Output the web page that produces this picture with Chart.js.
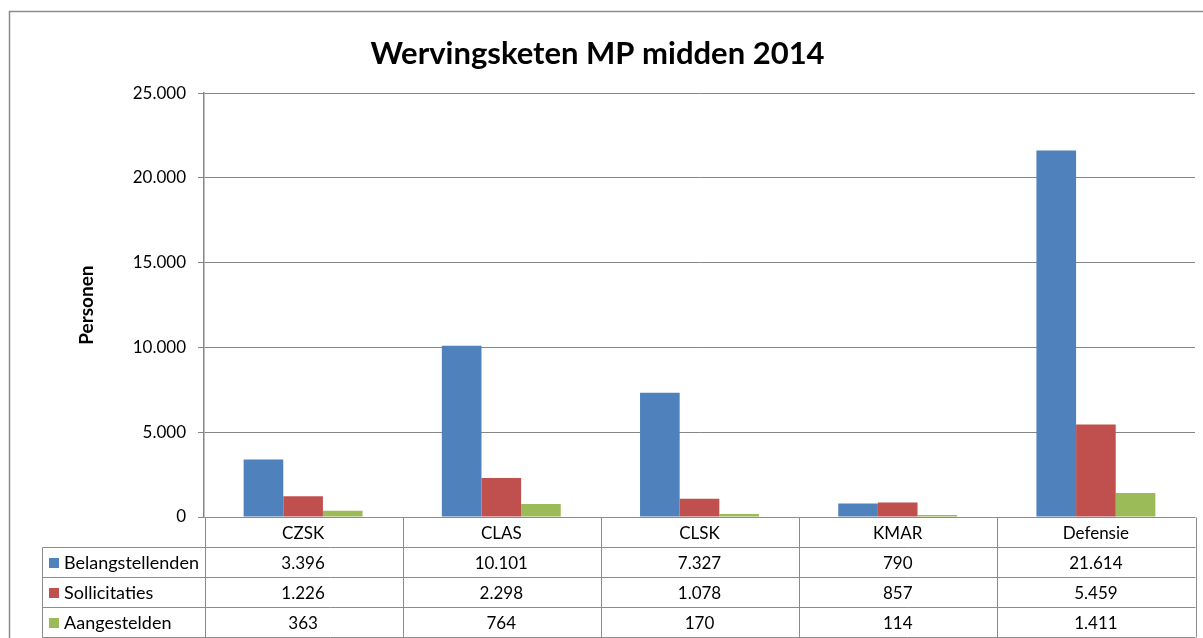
<!DOCTYPE html>
<html>
<head>
<meta charset="utf-8">
<title>Wervingsketen MP midden 2014</title>
<script src="https://cdn.jsdelivr.net/npm/chart.js@4.4.1/dist/chart.umd.min.js"></script>
<style>
  body { margin: 0; background: #fff; }
  .chart-box { width: 1203px; height: 638px; position: relative; }
</style>
</head>
<body>
<div class="chart-box"><canvas id="wervingChart"></canvas></div>
<script>
// data
const categories = ["CZSK", "CLAS", "CLSK", "KMAR", "Defensie"];
const belangstellenden = [3396, 10101, 7327, 790, 21614];
const sollicitaties = [1226, 2298, 1078, 857, 5459];
const aangestelden = [363, 764, 170, 114, 1411];
const seriesNames = ["Belangstellenden", "Sollicitaties", "Aangestelden"];
const yTicks = [0, 5000, 10000, 15000, 20000, 25000];

const seriesColors = ["#4F81BD", "#C0504D", "#9BBB59"];
const lineGray = "#8c8c8c";

// dutch thousands separator
const fmt = (v) => String(v).replace(/\B(?=(\d{3})+(?!\d))/g, ".");

// outer frame around the whole chart
const framePlugin = {
  id: "frame",
  beforeDraw(chart) {
    const ctx = chart.ctx;
    ctx.save();
    ctx.strokeStyle = lineGray;
    ctx.lineWidth = 1.5;
    ctx.strokeRect(9.5, 11.5, chart.width + 20, chart.height + 20);
    ctx.restore();
  }
};

// data table under the plot, Excel style
const dataTablePlugin = {
  id: "dataTable",
  afterDraw(chart) {
    const { ctx, chartArea, scales } = chart;
    const x = scales.x;
    const left = Math.round(chartArea.left) + 0.5;
    const right = Math.round(chartArea.right) + 0.5;
    const top = Math.round(chartArea.bottom) + 0.5;
    const colW = (right - left) / categories.length;
    const rowH = 30;
    const legendLeft = 42.5;
    const rows = [belangstellenden, sollicitaties, aangestelden];

    ctx.save();
    ctx.strokeStyle = lineGray;
    ctx.lineWidth = 1;
    ctx.beginPath();
    for (let r = 0; r <= rows.length + 1; r++) {
      const y = top + r * rowH;
      ctx.moveTo(r === 0 ? left : legendLeft, y);
      ctx.lineTo(right, y);
    }
    for (let i = 0; i <= categories.length; i++) {
      const cx = Math.round(left + i * colW) + 0.5;
      ctx.moveTo(cx, top);
      ctx.lineTo(cx, top + (rows.length + 1) * rowH);
    }
    ctx.moveTo(legendLeft, top + rowH);
    ctx.lineTo(legendLeft, top + (rows.length + 1) * rowH);
    ctx.stroke();

    ctx.fillStyle = "#000";
    ctx.font = "17px Lato";
    ctx.textBaseline = "middle";
    ctx.textAlign = "center";
    categories.forEach((c, i) => {
      ctx.fillText(c, x.getPixelForValue(i), top + rowH / 2 + 1);
    });
    rows.forEach((vals, r) => {
      const cy = top + (r + 1) * rowH + rowH / 2 + 1;
      vals.forEach((v, i) => {
        ctx.fillText(fmt(v), x.getPixelForValue(i), cy);
      });
    });

    ctx.textAlign = "left";
    ctx.font = "18px Lato";
    seriesNames.forEach((name, r) => {
      const cy = top + (r + 1) * rowH + rowH / 2;
      ctx.fillStyle = seriesColors[r];
      ctx.fillRect(49, Math.round(cy - 5), 10, 10);
      ctx.fillStyle = "#000";
      ctx.fillText(name, 64, cy + 1);
    });
    ctx.restore();
  }
};

const ctx = document.getElementById("wervingChart").getContext("2d");
Chart.defaults.font.family = "Lato";
Chart.defaults.color = "#000";

new Chart(ctx, {
  type: "bar",
  data: {
    labels: categories,
    datasets: [
      { label: seriesNames[0], data: belangstellenden, backgroundColor: seriesColors[0] },
      { label: seriesNames[1], data: sollicitaties, backgroundColor: seriesColors[1] },
      { label: seriesNames[2], data: aangestelden, backgroundColor: seriesColors[2] },
    ],
  },
  options: {
    responsive: true,
    maintainAspectRatio: false,
    animation: false,
    layout: { padding: { left: 0, right: 8, top: 0, bottom: 121 } },
    datasets: {
      bar: { categoryPercentage: 0.6, barPercentage: 1, borderWidth: 0 },
    },
    plugins: {
      legend: { display: false },
      tooltip: { enabled: false },
      title: {
        display: true,
        text: "Wervingsketen MP midden 2014",
        font: { size: 31, weight: "bold" },
        color: "#000",
        padding: { top: 35, bottom: 21 },
      },
    },
    scales: {
      x: { display: false },
      y: {
        min: 0,
        max: 25000,
        afterBuildTicks: (s) => { s.ticks = yTicks.map((v) => ({ value: v })); },
        afterFit: (s) => { s.width = 204; },
        ticks: { callback: (v) => fmt(v), font: { size: 17 }, padding: 12, color: "#000" },
        grid: { color: "#868686", tickLength: 6, lineWidth: 1 },
        border: { color: "#868686", width: 1.5 },
        title: {
          display: true,
          text: "Personen",
          font: { size: 19, weight: "bold" },
          padding: { top: 75, bottom: 0 },
        },
      },
    },
  },
  plugins: [framePlugin, dataTablePlugin],
});
</script>
</body>
</html>
